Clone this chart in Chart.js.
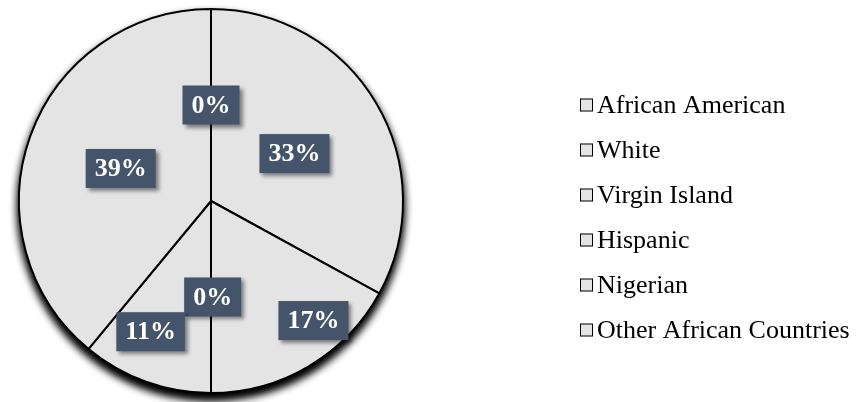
<!DOCTYPE html>
<html>
<head>
<meta charset="utf-8">
<script src="https://cdn.jsdelivr.net/npm/chart.js@4.4.1/dist/chart.umd.min.js"></script>
<style>
  html, body { margin: 0; padding: 0; background: #fff; }
  #wrap { width: 860px; height: 402px; position: relative; }
</style>
</head>
<body>
<div id="wrap"><canvas id="pieChart"></canvas></div>
<script>
// --- data ---
const categories = ['African American', 'White', 'Virgin Island', 'Hispanic', 'Nigerian', 'Other African Countries'];
const shares = [33, 17, 0, 11, 39, 0];
const pctLabels = ['33%', '17%', '0%', '11%', '39%', '0%'];

// label placement: fraction of radius, angle nudge in degrees (Excel "best fit")
const labelRadius = [0.5, 0.82, 0.5, 0.75, 0.5, 0.5];
const labelNudge = [1, -10, -1, 5, 0, 0];

const sliceFill = '#e4e4e4';
const boxFill = '#44546a';

// dark shadow under the whole pie, heavier toward the bottom
const pieShadow = {
  id: 'pieShadow',
  beforeDatasetsDraw(chart) {
    const arc = chart.getDatasetMeta(0).data[0];
    if (!arc) return;
    const {x, y, outerRadius} = arc.getProps(['x', 'y', 'outerRadius'], true);
    const ctx = chart.ctx;
    ctx.save();
    ctx.shadowColor = 'rgba(0,0,0,1)';
    ctx.shadowBlur = 10;
    ctx.shadowOffsetY = 6;
    ctx.fillStyle = sliceFill;
    for (let k = 0; k < 2; k++) {
      ctx.beginPath();
      ctx.arc(x, y, outerRadius, 0, Math.PI * 2);
      ctx.fill();
    }
    ctx.restore();
  }
};

// dark boxed percentage labels
const boxLabels = {
  id: 'boxLabels',
  afterDatasetsDraw(chart) {
    const ctx = chart.ctx;
    const meta = chart.getDatasetMeta(0);
    ctx.save();
    ctx.font = 'bold 26px "Liberation Serif", "Times New Roman", serif';
    ctx.textAlign = 'center';
    ctx.textBaseline = 'middle';
    meta.data.forEach((arc, i) => {
      const p = arc.getProps(['x', 'y', 'startAngle', 'endAngle', 'outerRadius'], true);
      const a = (p.startAngle + p.endAngle) / 2 + labelNudge[i] * Math.PI / 180;
      const r = p.outerRadius * labelRadius[i];
      const cx = p.x + Math.cos(a) * r;
      const cy = p.y + Math.sin(a) * r;
      const txt = pctLabels[i];
      const w = ctx.measureText(txt).width + 18;
      const h = 39;
      ctx.save();
      ctx.shadowColor = 'rgba(0,0,0,0.45)';
      ctx.shadowBlur = 4;
      ctx.shadowOffsetX = 3;
      ctx.shadowOffsetY = 3;
      ctx.fillStyle = boxFill;
      ctx.fillRect(cx - w / 2, cy - h / 2, w, h);
      ctx.restore();
      ctx.fillStyle = '#fff';
      ctx.fillText(txt, cx, cy + 1);
    });
    ctx.restore();
  }
};

// legend on the right, square keys close to the text
const sideLegend = {
  id: 'sideLegend',
  afterDraw(chart) {
    const ctx = chart.ctx;
    const top = 105, step = 45, keyX = 580, key = 13;
    ctx.save();
    ctx.font = '26px "Liberation Serif", "Times New Roman", serif';
    ctx.textBaseline = 'middle';
    chart.data.labels.forEach((lab, i) => {
      const y = top + i * step;
      ctx.fillStyle = sliceFill;
      ctx.fillRect(keyX, y - key / 2, key, key);
      ctx.strokeStyle = '#000';
      ctx.lineWidth = 1;
      ctx.strokeRect(keyX + 0.5, y - key / 2 + 0.5, key - 1, key - 1);
      ctx.fillStyle = '#000';
      ctx.fillText(lab, keyX + key + 4, y + 1);
    });
    ctx.restore();
  }
};

new Chart(document.getElementById('pieChart'), {
  type: 'pie',
  data: {
    labels: categories,
    datasets: [{
      data: shares,
      backgroundColor: sliceFill,
      borderColor: '#000',
      borderWidth: 2
    }]
  },
  options: {
    responsive: true,
    maintainAspectRatio: false,
    animation: false,
    layout: { padding: { left: 18, right: 456, top: 8, bottom: 8 } },
    plugins: {
      legend: { display: false },
      tooltip: { enabled: false },
      title: { display: false }
    }
  },
  plugins: [pieShadow, boxLabels, sideLegend]
});
</script>
</body>
</html>
